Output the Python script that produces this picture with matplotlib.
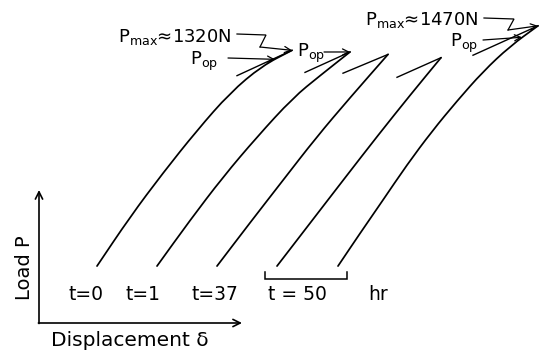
import matplotlib
matplotlib.use("Agg")
import matplotlib.pyplot as plt  # noqa: E402
from matplotlib.path import Path  # noqa: E402
from matplotlib.patches import PathPatch  # noqa: E402

plt.rcParams["font.family"] = "DejaVu Sans"
plt.rcParams["mathtext.fontset"] = "dejavusans"
plt.rcParams["mathtext.default"] = "regular"

# displacement (arb. units) and load P (N) along each loading curve
DELTA = [
    [0.58, 0.91, 1.24, 1.58, 1.91, 2.23, 2.53],
    [1.18, 1.51, 1.84, 2.18, 2.54, 2.81, 3.11],
    [1.78, 2.11, 2.44, 2.77, 3.11, 3.49],
    [2.38, 2.72, 3.06, 3.39, 3.71, 4.02],
    [2.99, 3.21, 3.43, 3.68, 3.93, 4.18, 4.44, 4.71, 4.99],
]
LOAD = [
    [0, 300, 570, 830, 1060, 1225, 1320],
    [0, 280, 545, 790, 1030, 1165, 1310],
    [0, 265, 525, 785, 1030, 1295],
    [0, 270, 540, 800, 1045, 1275],
    [0, 200, 395, 620, 825, 1010, 1190, 1345, 1470],
]
# end of the short unloading line drawn back from each peak
UNLOAD_DELTA = [1.98, 2.66, 3.04, 3.58, 4.34]
UNLOAD_LOAD = [1165, 1185, 1180, 1155, 1290]

# operating points marked P_op (curves t=0, t=1 and the last one)
POP_DELTA = [2.36, 3.11, 4.83]
POP_LOAD = [1265, 1310, 1400]

PMAX = [1320, 1470]
PMAX_CURVE = [0, 4]
TIME_LABELS = ["t=0", "t=1", "t=37", "t = 50", "hr"]

W, H = 540, 353


def fxy(x, y):
    # layout position in pixels from the top-left -> axes fraction
    return (x / W, 1 - y / H)


def smooth_curve(ax, xs, ys, lw=1.25):
    # quadratic bezier through the midpoints, data points as controls
    pts = list(zip(xs, ys))
    verts = [pts[0]]
    codes = [Path.MOVETO]
    mid = lambda a, b: ((a[0] + b[0]) / 2, (a[1] + b[1]) / 2)  # noqa: E731
    verts.append(mid(pts[0], pts[1]))
    codes.append(Path.LINETO)
    for i in range(1, len(pts) - 1):
        verts += [pts[i], mid(pts[i], pts[i + 1])]
        codes += [Path.CURVE3, Path.CURVE3]
    verts.append(pts[-1])
    codes.append(Path.LINETO)
    ax.add_patch(PathPatch(Path(verts, codes), fill=False, lw=lw,
                           edgecolor="black", capstyle="round"))


def poly(ax, pts, lw=0.9):
    xs = [fxy(*p)[0] for p in pts]
    ys = [fxy(*p)[1] for p in pts]
    ax.plot(xs, ys, transform=ax.transAxes, color="black", lw=lw,
            solid_joinstyle="miter", clip_on=False)


def arrow(ax, tip, start, tipcoords="data", lw=0.9, ms=11):
    ax.annotate("", xy=tip, xycoords=tipcoords, xytext=start,
                textcoords="axes fraction",
                arrowprops=dict(arrowstyle="->", lw=lw, color="black",
                                shrinkA=0, shrinkB=0, mutation_scale=ms))


fig = plt.figure(figsize=(5.4, 3.53), dpi=100)
ax = fig.add_axes([0, 0, 1, 1])
ax.set_xlim(-0.39, 5.01)
ax.set_ylim(-532, 1628)
ax.axis("off")

# loading curves and unloading lines
for d, p, ud, up in zip(DELTA, LOAD, UNLOAD_DELTA, UNLOAD_LOAD):
    smooth_curve(ax, d, p)
    ax.plot([d[-1], ud], [p[-1], up], color="black", lw=1.0)

# axes arrows
arrow(ax, fxy(39, 190), fxy(39, 323.5), tipcoords="axes fraction", lw=1.2, ms=13)
arrow(ax, fxy(242, 323), fxy(38.4, 323), tipcoords="axes fraction", lw=1.2, ms=13)
ax.text(*fxy(24, 268), "Load P", transform=ax.transAxes, rotation=90,
        ha="center", va="center", fontsize=14)
ax.text(*fxy(130, 341), "Displacement δ", transform=ax.transAxes,
        ha="center", va="center", fontsize=14.5)

# time labels under the curves
for lab, x in zip(TIME_LABELS, [86, 143, 215, 297, 378]):
    ax.text(*fxy(x, 295), lab, transform=ax.transAxes, ha="center",
            va="center", fontsize=13.5)
poly(ax, [(265, 272), (265, 279), (347, 279), (347, 272)], lw=1.1)

# P_max callouts with zig-zag leaders
pmax_text = [(232, 42), (479, 25)]
pmax_path = [[(237, 34), (266, 35), (260, 47)],
             [(484, 18), (514, 19), (508, 30)]]
for val, ci, (tx, ty), path in zip(PMAX, PMAX_CURVE, pmax_text, pmax_path):
    ax.text(*fxy(tx, ty), r"$P_{max}$" + f"≈{val}N", transform=ax.transAxes,
            ha="right", va="baseline", fontsize=13)
    poly(ax, path)
    arrow(ax, (DELTA[ci][-1], LOAD[ci][-1]), fxy(*path[-1]))

# P_op labels
pop_text = [(190, 65), (297, 57), (450, 47)]
pop_start = [(228, 58), (324, 52), (483, 40)]
for d, p, (tx, ty), s in zip(POP_DELTA, POP_LOAD, pop_text, pop_start):
    ax.text(*fxy(tx, ty), r"$P_{op}$", transform=ax.transAxes,
            ha="left", va="baseline", fontsize=13)
    arrow(ax, (d, p), fxy(*s))

fig.savefig("out.png", dpi=100, facecolor="white")
